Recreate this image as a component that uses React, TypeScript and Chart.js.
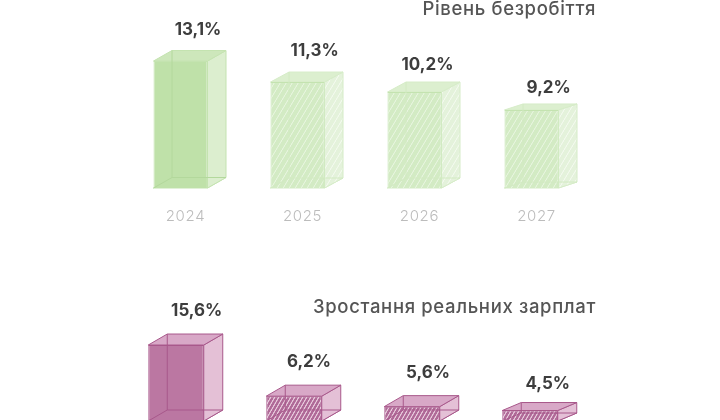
import { useEffect, useRef } from "react";
import { Chart, registerables } from "chart.js";

Chart.register(...registerables);

const years = ["2024", "2025", "2026", "2027"];
const unemploymentLabels = ["13,1%", "11,3%", "10,2%", "9,2%"];
// Bar heights as they are drawn in the picture, read against the 2024 bar.
const unemploymentHeights = [13.1, 10.93, 9.9, 8.05];
const wageLabels = ["15,6%", "6,2%", "5,6%", "4,5%"];
const wageHeights = [15.6, 5.1, 2.95, 2.15];
const unemploymentTitle = "Рівень безробіття";
const wageTitle = "Зростання реальних зарплат";

const FONT = "Inter, sans-serif";

function stripes(bg: string, line: string, lw: number, w = 4, h = 7) {
  const s = 4;
  const c = document.createElement("canvas");
  c.width = w * s;
  c.height = h * s;
  const g = c.getContext("2d")!;
  g.fillStyle = bg;
  g.fillRect(0, 0, c.width, c.height);
  g.strokeStyle = line;
  g.lineWidth = lw * s;
  for (const dx of [-c.width, 0, c.width]) {
    g.beginPath();
    g.moveTo(dx, c.height);
    g.lineTo(dx + c.width, 0);
    g.stroke();
  }
  const p = g.createPattern(c, "repeat")!;
  p.setTransform(new DOMMatrix().scale(1 / s));
  return p;
}

const boxPlugin = {
  id: "box3d",
  beforeDraw(chart: any) {
    chart.ctx.letterSpacing = "0.65px";
  },
  beforeDatasetsDraw(chart: any, _a: any, o: any) {
    const g = chart.ctx;
    g.letterSpacing = "0px";
    chart.getDatasetMeta(0).data.forEach((b: any, i: number) => {
      const l = b.x - b.width / 2, r = b.x + b.width / 2;
      const t = b.y, bt = b.base, dx = o.dx, dy = o.dy[i];
      const face = (pts: number[][], fill: any) => {
        g.beginPath();
        pts.forEach((p, k) => (k ? g.lineTo(p[0], p[1]) : g.moveTo(p[0], p[1])));
        g.closePath();
        g.fillStyle = fill;
        g.fill();
        g.strokeStyle = o.edges[i];
        g.lineWidth = 1;
        g.stroke();
      };
      face([[l, bt], [r, bt], [r + dx, bt - dy], [l + dx, bt - dy]], o.floor[i]);
      face([[r, t], [r + dx, t - dy], [r + dx, bt - dy], [r, bt]], o.side[i]);
      face([[l, t], [r, t], [r + dx, t - dy], [l + dx, t - dy]], o.top[i]);
    });
  },
  afterDatasetsDraw(chart: any, _a: any, o: any) {
    const g = chart.ctx;
    chart.getDatasetMeta(0).data.forEach((b: any, i: number) => {
      const l = b.x - b.width / 2, bt = b.base, t = b.y, dx = o.dx, dy = o.dy[i];
      g.strokeStyle = o.hidden[i];
      g.lineWidth = 1;
      g.beginPath();
      g.moveTo(l + dx, t - dy);
      g.lineTo(l + dx, bt - dy);
      g.lineTo(l + dx + b.width, bt - dy);
      g.moveTo(l + dx, bt - dy);
      g.lineTo(l, bt);
      g.stroke();
      g.fillStyle = "#3d3d3d";
      g.font = `700 17px ${FONT}`;
      g.textAlign = "center";
      g.textBaseline = "middle";
      g.fillText(o.labels[i], b.x + o.labelDx[i], t - o.labelDy[i]);
    });
  },
};

function makeChart(
  canvas: HTMLCanvasElement,
  cfg: {
    title: string; heights: number[]; max: number; left: number; yw: number; axisH: number;
    pct: number; titleTop: number; titleBottom: number; bg: any[]; border: string; box: any;
  }
) {
  return new Chart(canvas, {
    type: "bar",
    data: {
      labels: years,
      datasets: [{
        data: cfg.heights,
        backgroundColor: cfg.bg,
        borderColor: cfg.border,
        borderWidth: 1,
        barPercentage: 1,
        categoryPercentage: cfg.pct,
      }],
    },
    plugins: [boxPlugin as any],
    options: {
      animation: false,
      responsive: false,
      devicePixelRatio: 1,
      layout: { padding: { left: cfg.left, right: 124, top: 0, bottom: 0 } },
      plugins: {
        legend: { display: false },
        tooltip: { enabled: false },
        title: {
          display: true,
          text: cfg.title,
          align: "end",
          color: "#555555",
          font: { family: FONT, size: 18.5, weight: "500", lineHeight: "16px" },
          padding: { top: cfg.titleTop, bottom: cfg.titleBottom },
        },
        box3d: cfg.box,
      } as any,
      scales: {
        x: {
          grid: { display: false },
          border: { display: false },
          ticks: {
            color: "#bcbcbc",
            font: { family: FONT, size: 15, weight: "300" },
            padding: 11,
            labelOffset: 5,
            maxRotation: 0,
          },
          afterFit: (s: any) => { s.height = cfg.axisH; },
        },
        y: {
          position: "right",
          min: 0,
          max: cfg.max,
          grid: { display: false },
          border: { display: false },
          ticks: { display: false },
          afterFit: (s: any) => { s.width = cfg.yw; },
        },
      },
    } as any,
  });
}

export default function App() {
  const topRef = useRef<HTMLCanvasElement>(null);
  const botRef = useRef<HTMLCanvasElement>(null);

  useEffect(() => {
    const greenSolid = "#bfe1a9";
    const greenHatch = stripes("#d3ebc4", "#e6f4dd", 1, 6, 10);
    const greenSideHatch = stripes("#e4f2db", "#f2f9ed", 1, 6, 10);
    const pinkSolid = "#bb77a2";
    const pinkHatch = stripes("#b06a98", "#e6c6da", 1.2, 4, 7);

    const top = makeChart(topRef.current!, {
      title: unemploymentTitle,
      heights: unemploymentHeights,
      max: 17.33,
      left: 122,
      yw: 6,
      axisH: 52,
      pct: 54 / 117,
      titleTop: 1,
      titleBottom: 3,
      bg: [greenSolid, greenHatch, greenHatch, greenHatch],
      border: "#c4e3b0",
      box: {
        dx: 18.5, dy: [10.5, 10, 10, 6],
        labelDx: [17.5, 17.2, 13, 17.2],
        labelDy: [31, 31, 27, 22],
        labels: unemploymentLabels,
        side: ["#dceecf", greenSideHatch, greenSideHatch, greenSideHatch],
        top: ["#cde7bb", "#dcefcf", "#dcefcf", "#dcefcf"],
        floor: ["#cde7bb", "#dcefcf", "#dcefcf", "#dcefcf"],
        edges: ["#c4e3b0", "#d6ecc8", "#d6ecc8", "#d6ecc8"],
        hidden: ["#b3d89c", "#d2eac2", "#d2eac2", "#d2eac2"],
      },
    });
    const bot = makeChart(botRef.current!, {
      title: wageTitle,
      heights: wageHeights,
      max: 20.74,
      left: 117,
      yw: 7,
      axisH: 49,
      pct: 55.5 / 118,
      titleTop: 9,
      titleBottom: 5,
      bg: [pinkSolid, pinkHatch, pinkHatch, pinkHatch],
      border: "#a8588b",
      box: {
        dx: 19, dy: [11, 11, 11, 8],
        labelDx: [20.7, 15, 16, 17.7],
        labelDy: [34, 34, 34, 27],
        labels: wageLabels,
        side: Array(4).fill("#e4c0d6"),
        top: Array(4).fill("#d8a8c7"),
        floor: Array(4).fill("#c68fb3"),
        edges: Array(4).fill("#a8588b"),
        hidden: Array(4).fill("#a8588b"),
      },
    });
    return () => {
      top.destroy();
      bot.destroy();
    };
  }, []);

  return (
    <div style={{ position: "fixed", left: 0, top: 0, width: 720, height: 420, overflow: "hidden", background: "#fff" }}>
      <canvas ref={topRef} width={720} height={240} style={{ position: "absolute", left: 0, top: 0, width: 720, height: 240 }} />
      <canvas ref={botRef} width={720} height={180} style={{ position: "absolute", left: 0, top: 290, width: 720, height: 180 }} />
    </div>
  );
}
